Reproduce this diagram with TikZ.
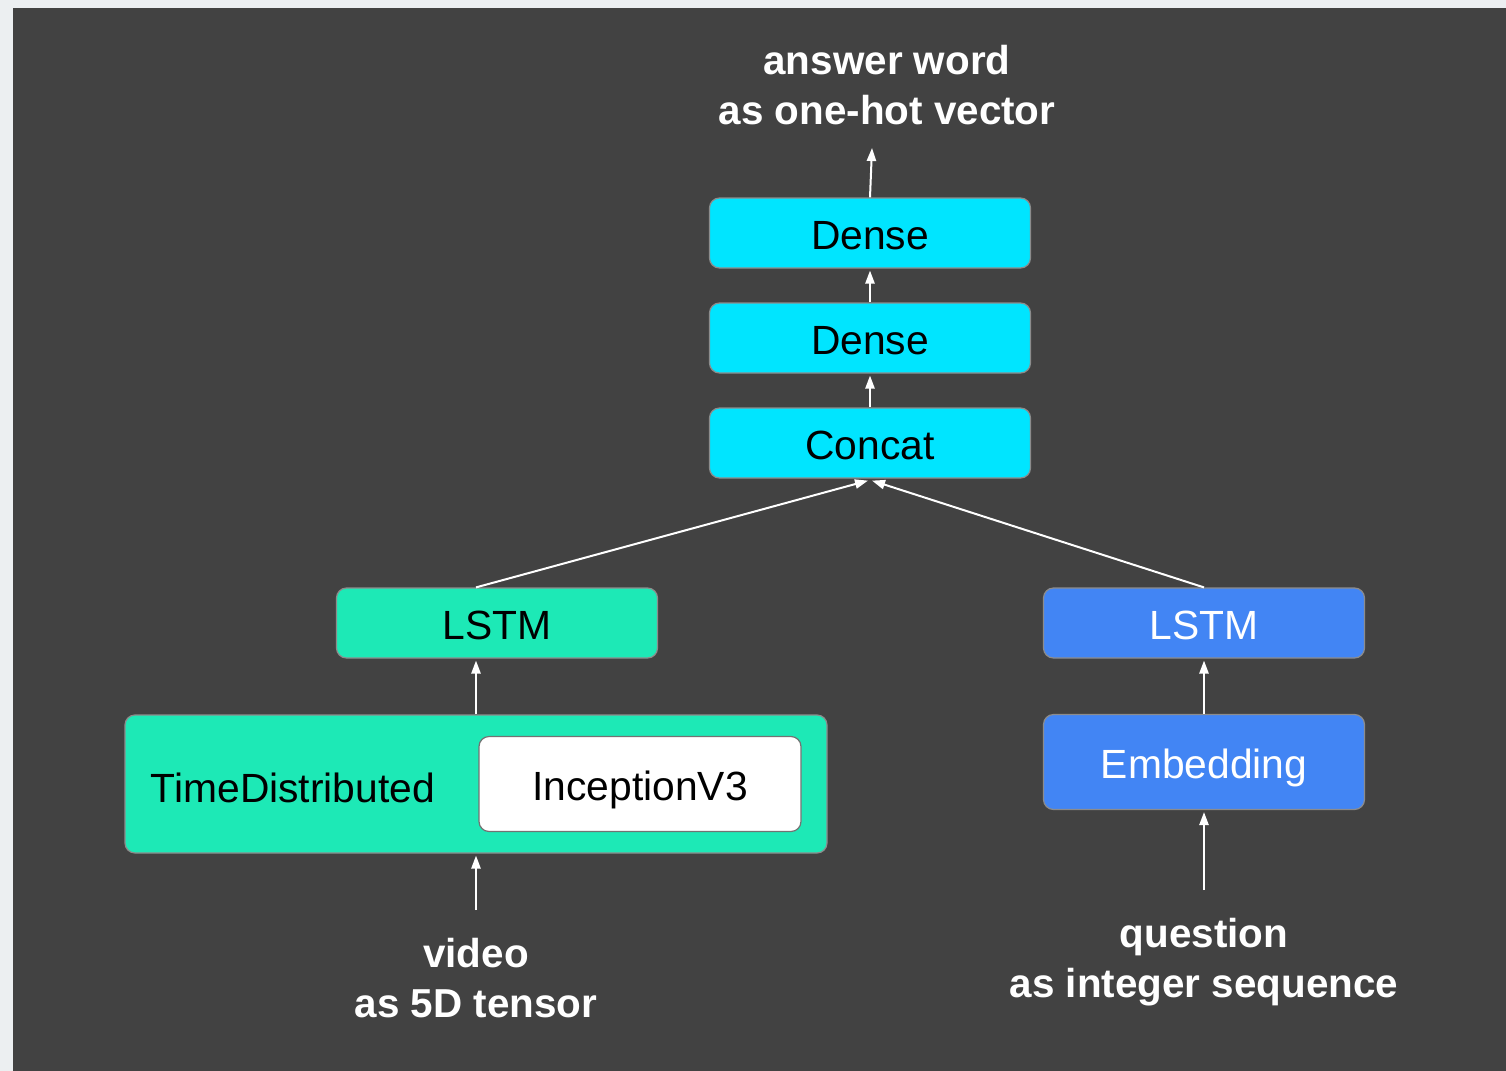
\documentclass[tikz,border=0pt]{standalone}
\usepackage{fontspec}
\setmainfont{Liberation Sans}
\usetikzlibrary{arrows.meta}

\definecolor{bgdark}{HTML}{424242}
\definecolor{bglight}{HTML}{ECEFF1}
\definecolor{densecyan}{HTML}{00E5FF}
\definecolor{videoteal}{HTML}{1DE9B6}
\definecolor{questionblue}{HTML}{4285F4}

\begin{document}
\begin{tikzpicture}[>={Triangle[length=6.5pt,width=4.6pt]}, x=0.5pt, y=-0.5pt,
    boxfont/.style={font=\fontsize{20.4}{24}\selectfont, text height=19pt, text depth=2.4pt},
    layer/.style={boxfont, rounded corners=5pt, draw=black!45, line width=0.6pt,
        minimum width=160.5pt, minimum height=35pt, inner sep=0pt},
    flow/.style={->, white, line width=1pt},
    caption/.style={white, align=center, font=\bfseries\fontsize{20.2}{25}\selectfont}]
    % Background
    \fill[bglight] (0,0) rectangle (1506,1071);
    \fill[bgdark] (13,8) rectangle (1506,1071);

    % --- Head ---
    \node[layer, fill=densecyan] (dense1) at (870,233) {Dense};
    \node[layer, fill=densecyan] (dense2) at (870,338) {Dense};
    \node[layer, fill=densecyan] (concat) at (870,443) {Concat};
    \coordinate (answer) at (872,148);
    \node[caption] (answerlbl) at (887,85) {answer word\\as one-hot vector};

    % --- Video branch ---
    \node[layer, fill=videoteal] (lstmv) at (497,623) {LSTM};
    \node[layer, fill=videoteal, minimum width=351pt, minimum height=69pt] (tdist) at (476,784) {};
    \node[boxfont] (tdistlbl) at (293,786) {TimeDistributed};
    \node[layer, fill=white, draw=black!55, minimum height=47.5pt, minimum width=161pt] (incep) at (640,784) {InceptionV3};
    \coordinate (videoin) at (476,910);
    \node[caption] (videolbl) at (476,978) {video\\as 5D tensor};

    % --- Question branch ---
    \node[layer, fill=questionblue, text=white] (lstmq) at (1204,623) {LSTM};
    \node[layer, fill=questionblue, text=white, minimum height=47.5pt] (embed) at (1204,762) {Embedding};
    \coordinate (questionin) at (1204,890);
    \node[caption] (questionlbl) at (1204,962) {question\\as integer sequence};

    % Connectors
    \draw[flow] (dense1.north) -- (answer);
    \draw[flow] (dense2.north) -- ([yshift=-1pt]dense1.south);
    \draw[flow] (concat.north) -- ([yshift=-1pt]dense2.south);
    \draw[flow] ([xshift=-10.5pt]lstmv.north) -- ([xshift=-1pt,yshift=-1pt]concat.south);
    \draw[flow] (lstmq.north) -- ([xshift=1pt,yshift=-1pt]concat.south);
    \draw[flow] (tdist.north) -- ([xshift=-10.5pt,yshift=-1pt]lstmv.south);
    \draw[flow] (videoin) -- ([yshift=-1pt]tdist.south);
    \draw[flow] (embed.north) -- ([yshift=-1pt]lstmq.south);
    \draw[flow] (questionin) -- ([yshift=-1pt]embed.south);
\end{tikzpicture}
\end{document}
